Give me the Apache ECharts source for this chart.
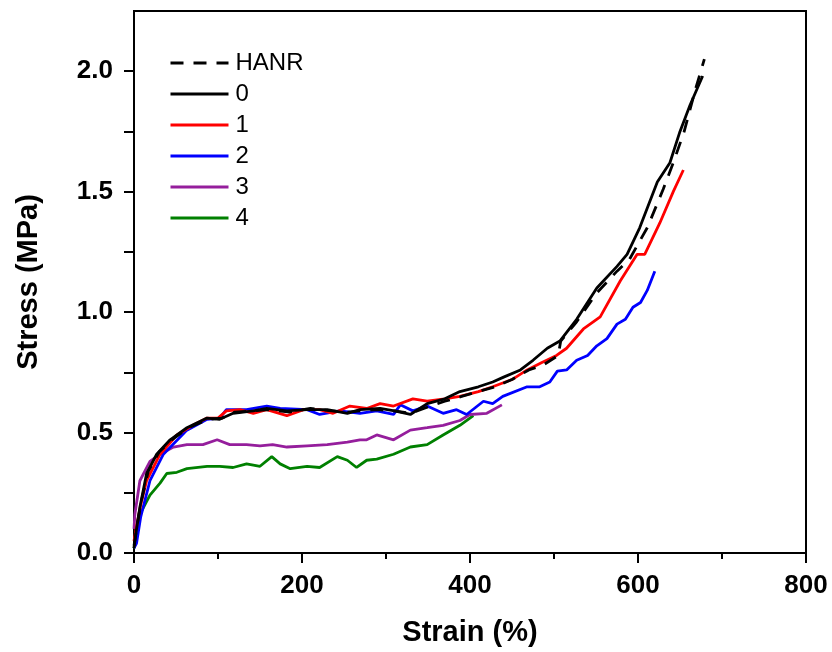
<!DOCTYPE html>
<html>
<head>
<meta charset="utf-8">
<script src="https://cdn.jsdelivr.net/npm/echarts@6/dist/echarts.min.js"></script>
<style>html,body{margin:0;padding:0;background:#fff;}#c{width:832px;height:652px;}</style>
</head>
<body>
<div id="c"></div>
<script>
var seriesNames = ['HANR', '0', '1', '2', '3', '4'];
var xTicks = [0, 200, 400, 600, 800];
var yTickLabels = [0, 0.5, 1.0, 1.5, 2.0];
var yTickMarks = [0, 0.25, 0.5, 0.75, 1.0, 1.25, 1.5, 1.75, 2.0];

var strainH = [0, 4, 9, 17, 30, 45, 65, 88, 105, 120, 140, 160, 185, 210, 235, 255, 269, 290, 310, 329, 345, 370, 390, 410, 430, 450, 470, 487, 505, 508, 527, 551, 575, 590, 611, 630, 642, 655, 668, 679];
var stressH = [0.03, 0.12, 0.22, 0.34, 0.42, 0.47, 0.52, 0.555, 0.56, 0.585, 0.59, 0.595, 0.585, 0.60, 0.59, 0.585, 0.59, 0.595, 0.59, 0.58, 0.60, 0.63, 0.65, 0.67, 0.69, 0.72, 0.76, 0.78, 0.82, 0.88, 0.96, 1.08, 1.17, 1.22, 1.35, 1.51, 1.62, 1.75, 1.92, 2.05];

var strain0 = [0, 3, 7, 15, 27, 43, 63, 87, 102, 118, 142, 158, 182, 206, 230, 254, 269, 293, 310, 329, 349, 370, 388, 410, 427, 440, 460, 475, 492, 507, 527, 551, 575, 587, 602, 623, 638, 650, 662, 677];
var stress0 = [0.02, 0.10, 0.19, 0.33, 0.41, 0.47, 0.52, 0.56, 0.555, 0.58, 0.59, 0.60, 0.59, 0.595, 0.595, 0.58, 0.595, 0.60, 0.59, 0.575, 0.62, 0.64, 0.67, 0.69, 0.71, 0.73, 0.76, 0.80, 0.85, 0.88, 0.97, 1.10, 1.19, 1.24, 1.35, 1.54, 1.62, 1.75, 1.86, 1.98];

var strain1 = [0, 3, 8, 15, 31, 51, 70, 87, 100, 110, 126, 142, 158, 182, 202, 221, 237, 257, 277, 293, 309, 332, 349, 370, 388, 410, 427, 450, 468, 485, 503, 515, 535, 555, 579, 599, 608, 626, 642, 654];
var stress1 = [0.05, 0.11, 0.20, 0.30, 0.41, 0.49, 0.53, 0.56, 0.56, 0.59, 0.595, 0.58, 0.595, 0.57, 0.595, 0.595, 0.58, 0.61, 0.60, 0.62, 0.61, 0.64, 0.63, 0.64, 0.65, 0.67, 0.69, 0.72, 0.76, 0.79, 0.82, 0.85, 0.93, 0.98, 1.13, 1.24, 1.24, 1.37, 1.50, 1.59];

var strain2 = [0, 3, 8, 19, 35, 63, 87, 102, 110, 134, 158, 174, 206, 221, 245, 269, 289, 309, 317, 332, 349, 368, 384, 396, 416, 427, 439, 468, 483, 495, 504, 515, 527, 540, 551, 563, 575, 585, 594, 603, 611, 620];
var stress2 = [0.02, 0.04, 0.15, 0.30, 0.41, 0.51, 0.555, 0.56, 0.595, 0.595, 0.61, 0.60, 0.595, 0.575, 0.59, 0.58, 0.59, 0.575, 0.615, 0.59, 0.61, 0.58, 0.595, 0.575, 0.63, 0.62, 0.65, 0.69, 0.69, 0.71, 0.755, 0.76, 0.80, 0.82, 0.86, 0.89, 0.95, 0.97, 1.02, 1.04, 1.09, 1.17];

var strain3 = [0, 1, 7, 19, 31, 47, 63, 82, 99, 114, 134, 150, 165, 182, 206, 230, 254, 269, 277, 289, 309, 329, 349, 368, 388, 400, 420, 438];
var stress3 = [0.10, 0.16, 0.30, 0.38, 0.41, 0.44, 0.45, 0.45, 0.47, 0.45, 0.45, 0.445, 0.45, 0.44, 0.445, 0.45, 0.46, 0.47, 0.47, 0.49, 0.47, 0.51, 0.52, 0.53, 0.55, 0.575, 0.58, 0.615];

var strain4 = [0, 1, 7, 19, 31, 39, 51, 63, 87, 102, 118, 134, 150, 164, 174, 186, 206, 221, 242, 254, 265, 277, 289, 309, 329, 349, 368, 388, 404];
var stress4 = [0.02, 0.04, 0.16, 0.24, 0.29, 0.33, 0.335, 0.35, 0.36, 0.36, 0.355, 0.37, 0.36, 0.40, 0.37, 0.35, 0.36, 0.355, 0.40, 0.385, 0.355, 0.385, 0.39, 0.41, 0.44, 0.45, 0.49, 0.53, 0.57];

function pairs(xs, ys) { return xs.map(function (x, i) { return [x, ys[i]]; }); }

var FONT = "'Liberation Sans', Arial, sans-serif";
var colors = ['#000000', '#000000', '#ff0000', '#0000ff', '#951e9c', '#008000'];
var dataSets = [pairs(strainH, stressH), pairs(strain0, stress0), pairs(strain1, stress1),
                pairs(strain2, stress2), pairs(strain3, stress3), pairs(strain4, stress4)];

var series = seriesNames.map(function (n, i) {
  return {
    name: n, type: 'line', data: dataSets[i], symbol: 'none', showSymbol: false,
    smooth: false, clip: true, z: 10 - i,
    lineStyle: { color: colors[i], width: 2.8, type: i === 0 ? [13, 10] : 'solid' },
    itemStyle: { color: colors[i] }
  };
});

var chart = echarts.init(document.getElementById('c'), null, { renderer: 'canvas' });
chart.setOption({
  backgroundColor: '#ffffff',
  animation: false,
  grid: { left: 134, right: 26, top: 11, bottom: 96, show: true, borderColor: '#000', borderWidth: 2, backgroundColor: 'transparent' },
  legend: {
    orient: 'vertical', left: 164, top: 46, itemWidth: 58, itemHeight: 14, itemGap: 7,
    data: seriesNames,
    itemStyle: { opacity: 0 },
    lineStyle: { width: 3 },
    textStyle: { fontFamily: FONT, fontSize: 24, color: '#000', lineHeight: 24, padding: [0, 0, 0, 2] }
  },
  xAxis: {
    type: 'value', min: 0, max: 800, interval: 200,
    name: 'Strain (%)', nameLocation: 'middle', nameGap: 65,
    nameTextStyle: { fontFamily: FONT, fontSize: 29, fontWeight: 'bold', color: '#000' },
    axisLine: { show: true, lineStyle: { color: '#000', width: 2 } },
    axisTick: { show: true, inside: false, length: 10, lineStyle: { color: '#000', width: 2 } },
    minorTick: { show: true, splitNumber: 2, length: 6, lineStyle: { color: '#000', width: 2 } },
    axisLabel: { margin: 20, fontFamily: FONT, fontSize: 26, fontWeight: 'bold', color: '#000',
      customValues: xTicks },
    splitLine: { show: false }
  },
  yAxis: {
    type: 'value', min: 0, max: 2.25,
    name: 'Stress (MPa)', nameLocation: 'middle', nameGap: 91, nameRotate: 90,
    nameTextStyle: { fontFamily: FONT, fontSize: 29, fontWeight: 'bold', color: '#000' },
    axisLine: { show: true, lineStyle: { color: '#000', width: 2 } },
    axisTick: { show: true, inside: false, length: 10, lineStyle: { color: '#000', width: 2 },
      customValues: yTickMarks },
    axisLabel: { margin: 21, fontFamily: FONT, fontSize: 26, fontWeight: 'bold', color: '#000',
      customValues: yTickLabels, formatter: function (v) { return v.toFixed(1); } },
    splitLine: { show: false }
  },
  series: series
});
</script>
</body>
</html>
